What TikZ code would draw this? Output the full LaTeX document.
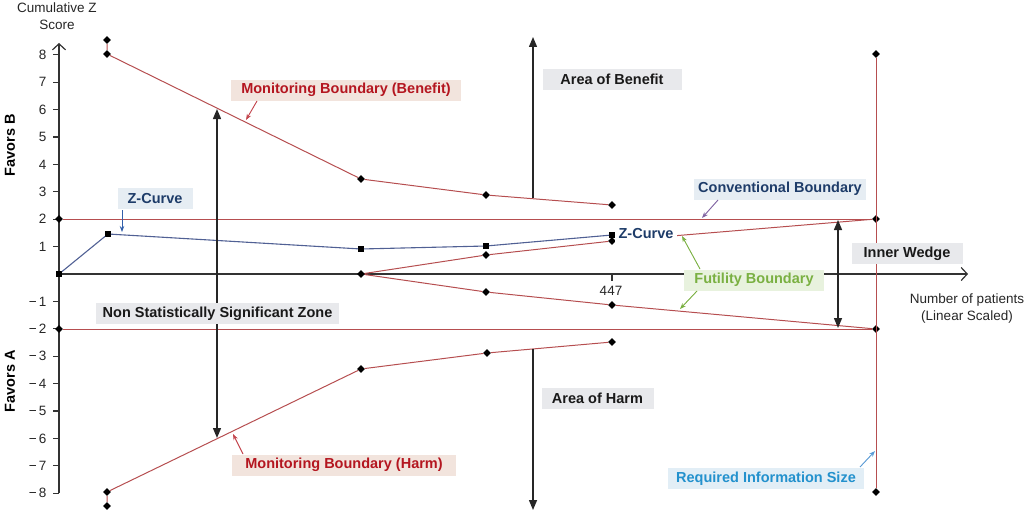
\documentclass[tikz,border=0pt]{standalone}
\usepackage{fontspec}
\setmainfont{Liberation Sans}
\usetikzlibrary{arrows.meta,shapes.geometric}

\definecolor{bndline}{RGB}{182,78,80}
\definecolor{bndtext}{RGB}{180,22,32}
\definecolor{bndfill}{RGB}{242,228,221}
\definecolor{zline}{RGB}{80,96,148}
\definecolor{ztext}{RGB}{30,60,105}
\definecolor{zarrow}{RGB}{50,95,170}
\definecolor{areafill}{RGB}{232,233,236}
\definecolor{convfill}{RGB}{230,237,243}
\definecolor{convarrow}{RGB}{128,100,162}
\definecolor{futtext}{RGB}{122,176,66}
\definecolor{futfill}{RGB}{232,242,222}
\definecolor{ristext}{RGB}{35,145,205}
\definecolor{risfill}{RGB}{226,238,246}
\definecolor{risarrow}{RGB}{91,155,213}

\tikzset{
  dmark/.style = {diamond, fill=black, inner sep=0pt, minimum size=8pt},
  smark/.style = {rectangle, fill=black, inner sep=0pt, minimum size=5.5pt},
  bnd/.style = {draw=bndline, line width=1pt},
  zcurve/.style = {draw=zline, line width=1.1pt},
  axis/.style = {draw=black!80, line width=1.2pt},
  bigarrow/.style = {draw=black!85, line width=1.4pt},
  callout/.style = {line width=0.9pt, -{Stealth[length=6pt,width=4.5pt]}},
  lbl/.style = {font=\fontsize{14.5}{16}\selectfont\bfseries, inner sep=0pt, minimum height=21pt},
  numlbl/.style = {font=\fontsize{13.5}{17}\selectfont, text=black!85},
}

\begin{document}
\begin{tikzpicture}[x=1pt, y=-1pt]
  \useasboundingbox (0,0) rectangle (1024,511);

  % axes
  \coordinate (o) at (59,274);
  \coordinate (ytop) at (59,43);
  \coordinate (ybot) at (59,493);
  \coordinate (xend) at (968,274);
  \draw[axis, -{Straight Barb[length=6pt,width=13pt]}] (ybot) -- (ytop);
  \draw[axis, -{Straight Barb[length=6pt,width=13pt]}] (o) -- (xend);
  \foreach \z in {1,...,8} {
    \draw[axis] (53,274-27.4*\z) -- (59,274-27.4*\z);
    \draw[axis] (53,274+27.4*\z) -- (59,274+27.4*\z);
    \node[numlbl, anchor=east] (yp\z) at (50,274-27.4*\z) {\z};
    \node[numlbl, anchor=east] (ym\z) at (50,274+27.4*\z) {−\,\z};
  }
  \draw[axis] (612,274) -- (612,281);
  \node[numlbl] (n447) at (611,291) {447};
  \node[numlbl, align=center] (ylab) at (57,16) {Cumulative Z\\Score};
  \node[numlbl, align=center] (xlab) at (967,309) {Number of patients\\(Linear Scaled)};
  \node[lbl, rotate=90] (favb) at (10,145) {Favors B};
  \node[lbl, rotate=90] (fava) at (10,381) {Favors A};

  % markers
  \node[dmark] (tb0) at (107,40) {};
  \node[dmark] (tb1) at (107,54) {};
  \node[dmark] (tb2) at (361,179) {};
  \node[dmark] (tb3) at (486,195) {};
  \node[dmark] (tb4) at (612,205) {};
  \node[dmark] (hb0) at (107,506) {};
  \node[dmark] (hb1) at (107,492) {};
  \node[dmark] (hb2) at (361,369) {};
  \node[dmark] (hb3) at (487,353) {};
  \node[dmark] (hb4) at (612,342) {};
  \node[dmark] (cb1) at (59,219) {};
  \node[dmark] (cb2) at (876,219) {};
  \node[dmark] (cb3) at (59,329) {};
  \node[dmark] (cb4) at (876,329) {};
  \node[dmark] (ris1) at (876,54) {};
  \node[dmark] (ris2) at (876,492) {};
  \node[dmark] (f0) at (361,274) {};
  \node[dmark] (fu1) at (486,255) {};
  \node[dmark] (fu2) at (612,241) {};
  \node[dmark] (fl1) at (486,292) {};
  \node[dmark] (fl2) at (612,305) {};

  % boundaries
  \draw[bnd] (tb0) -- (tb1) -- (tb2) -- (tb3) -- (tb4);
  \draw[bnd] (hb0) -- (hb1) -- (hb2) -- (hb3) -- (hb4);
  \draw[bnd] (cb1) -- (cb2);
  \draw[bnd] (cb3) -- (cb4);
  \draw[bnd] (ris1) -- (ris2);
  \draw[bnd] (f0) -- (fu1) -- (fu2) -- (cb2);
  \draw[bnd] (f0) -- (fl1) -- (fl2) -- (cb4);

  % z-curve
  \node[smark] (z0) at (59,274) {};
  \node[smark] (z1) at (108,234) {};
  \node[smark] (z2) at (361,249) {};
  \node[smark] (z3) at (486,246) {};
  \node[smark] (z4) at (612,235) {};
  \draw[zcurve] (z0) -- (z1) -- (z2) -- (z3) -- (z4);

  % big arrows
  \coordinate (w1) at (217,109);
  \coordinate (w2) at (217,438);
  \coordinate (ab0) at (533,198);
  \coordinate (ab1) at (533,37);
  \coordinate (ah0) at (533,349);
  \coordinate (ah1) at (533,510);
  \coordinate (iw1) at (838,220);
  \coordinate (iw2) at (838,328);
  \draw[bigarrow, {Triangle[length=10pt,width=8pt]}-{Triangle[length=10pt,width=8pt]}] (w2) -- (w1);
  \draw[bigarrow, -{Triangle[length=10pt,width=8pt]}] (ab0) -- (ab1);
  \draw[bigarrow, -{Triangle[length=10pt,width=8pt]}] (ah0) -- (ah1);
  \draw[bigarrow, {Triangle[length=10pt,width=8pt]}-{Triangle[length=10pt,width=8pt]}] (iw2) -- (iw1);

  % labels
  \node[lbl, fill=bndfill, text=bndtext, minimum width=230pt] (mbb) at (346,90) {Monitoring Boundary (Benefit)};
  \node[lbl, fill=bndfill, text=bndtext, minimum width=224pt] (mbh) at (344,465) {Monitoring Boundary (Harm)};
  \node[lbl, fill=areafill, text=black!90, minimum width=139pt] (aob) at (612,79.5) {Area of Benefit};
  \node[lbl, fill=areafill, text=black!90, minimum width=112pt] (aoh) at (597.5,398.5) {Area of Harm};
  \node[lbl, fill=convfill, text=ztext, minimum width=75pt] (zc1) at (155,198.5) {Z-Curve};
  \node[lbl, fill=white, text=ztext, minimum width=62pt] (zc2) at (646,234) {Z-Curve};
  \node[lbl, fill=convfill, text=ztext, minimum width=172pt] (conv) at (780,189) {Conventional Boundary};
  \node[lbl, fill=areafill, text=black!90, minimum width=111pt] (iwed) at (907,253.5) {Inner Wedge};
  \node[lbl, fill=futfill, text=futtext, minimum width=140pt] (fut) at (754,280) {Futility Boundary};
  \node[lbl, fill=areafill, text=black!90, minimum width=243pt] (nssz) at (217.5,313.5) {Non Statistically Significant Zone};
  \node[lbl, fill=risfill, text=ristext, minimum width=196pt] (ris) at (766,478.5) {Required Information Size};

  % callouts
  \coordinate (mbbt) at (246,120);
  \coordinate (mbht) at (233,434);
  \coordinate (zc1t) at (122,232);
  \coordinate (convt) at (702,218);
  \coordinate (futt1) at (682,236);
  \coordinate (futt2) at (680,309);
  \coordinate (rist) at (875,451);
  \draw[callout, draw=bndtext!80, fill=bndtext!80] (257,101) -- (mbbt);
  \draw[callout, draw=bndtext!80, fill=bndtext!80] (243,454) -- (mbht);
  \draw[callout, draw=zarrow, fill=zarrow] (122,210) -- (zc1t);
  \draw[callout, draw=convarrow, fill=convarrow] (718,200) -- (convt);
  \draw[callout, draw=futtext, fill=futtext] (700,269) -- (futt1);
  \draw[callout, draw=futtext, fill=futtext] (697,291) -- (futt2);
  \draw[callout, draw=risarrow, fill=risarrow] (860,467) -- (rist);
\end{tikzpicture}
\end{document}
